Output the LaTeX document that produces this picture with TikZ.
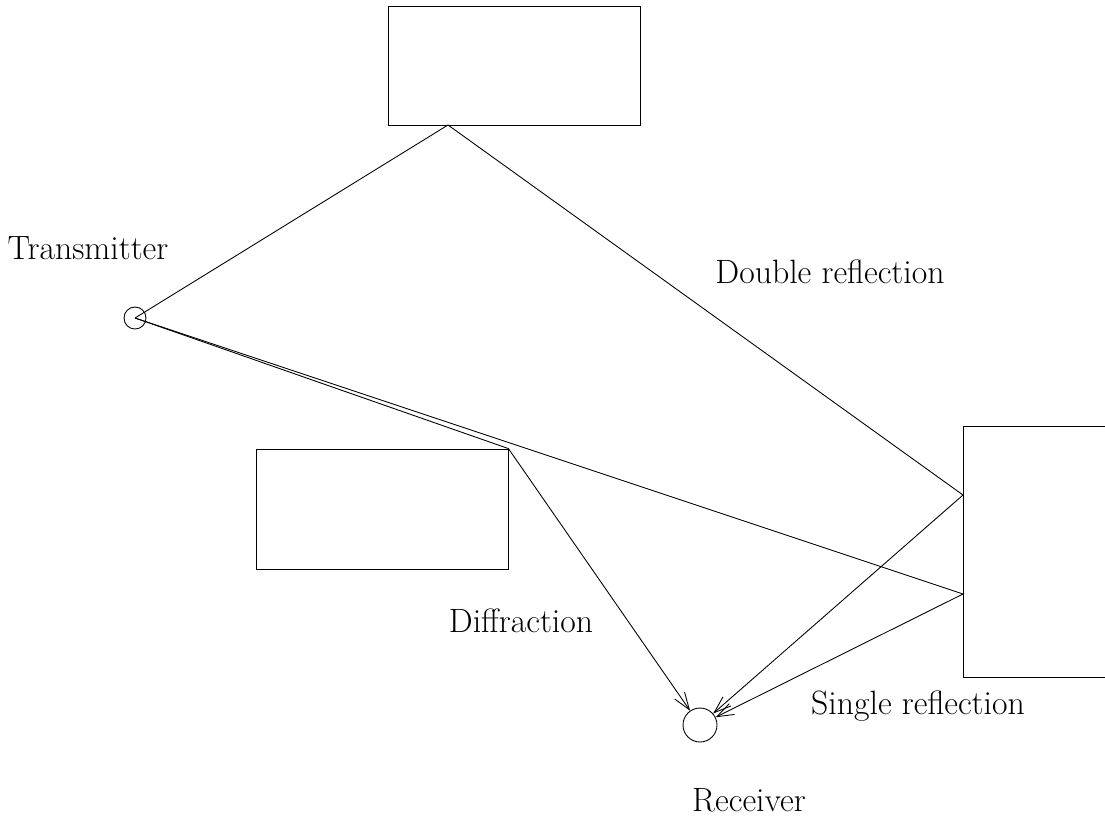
\documentclass[tikz,border=0pt]{standalone}
\usetikzlibrary{arrows.meta}

\tikzset{
  wall/.style={draw, line width=.5pt, inner sep=0pt},
  antenna/.style={circle, draw, line width=.5pt, inner sep=0pt},
  ray/.style={line width=.5pt},
  label/.style={font=\fontsize{19.2}{23}\selectfont, inner sep=0pt}
}

\begin{document}
\begin{tikzpicture}[x=0.02cm, y=-0.02cm]

        \useasboundingbox (0,0) rectangle (1105,819);

        % obstacles
        \node[wall, minimum width=5.04cm, minimum height=2.38cm] (top)   at (514,65.5)  {};
        \node[wall, minimum width=5.04cm, minimum height=2.40cm] (left)  at (382,509)   {};
        \node[wall, minimum width=3.40cm, minimum height=5.02cm, anchor=north west] (right) at (963,426) {};

        % antennas
        \node[antenna, minimum size=0.44cm] (tx) at (135,318) {};
        \node[antenna, minimum size=0.68cm] (rx) at (700,725) {};

        % reflection and diffraction points
        \coordinate (p1) at (448,125);
        \coordinate (p2) at (963,495);
        \coordinate (p3) at (963,594);
        \coordinate (p4) at (left.north east);

        % rays
        \draw[ray, -{Straight Barb[length=3.4mm,width=2.4mm]}] (tx.center) -- (p1) -- (p2) -- (rx);
        \draw[ray, -{Straight Barb[length=3.4mm,width=2.4mm]}] (tx.center) -- (p3) -- (rx);
        \draw[ray, -{Straight Barb[length=3.4mm,width=2.4mm]}] (tx.center) -- (p4) -- (rx);

        % labels
        \node[label] (ltx)  at (88,248)  {Transmitter};
        \node[label] (ldr)  at (830,272) {Double reflection};
        \node[label] (ldf)  at (521,621) {Diffraction};
        \node[label] (lsr)  at (918,706) {Single reflection};
        \node[label] (lrx)  at (749,800) {Receiver};

      \end{tikzpicture}
\end{document}
